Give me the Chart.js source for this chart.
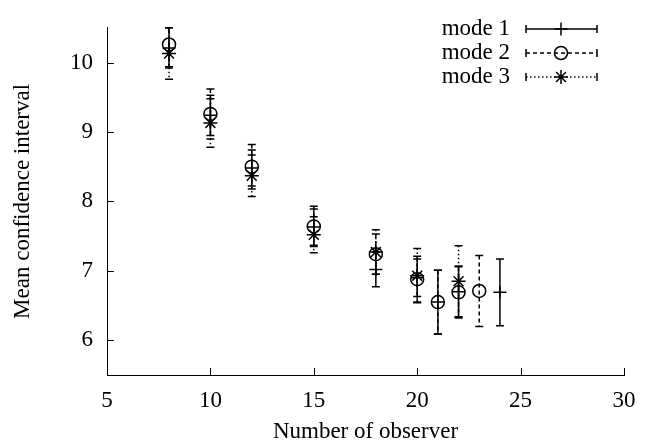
<!DOCTYPE html>
<html>
<head>
<meta charset="utf-8">
<script src="https://cdn.jsdelivr.net/npm/chart.js@4"></script>
<style>
  html, body { margin: 0; padding: 0; background: #fff; }
  #wrap { width: 659px; height: 448px; }
</style>
</head>
<body>
<div id="wrap"><canvas id="chart"></canvas></div>
<script>
// Data (mean, half-width of confidence interval)
const mode1X = [8, 10, 12, 15, 18, 20, 21, 22, 24];
const mode1Y = [10.21, 9.24, 8.48, 7.63, 7.02, 6.90, 6.55, 6.70, 6.69];
const mode1Err = [0.29, 0.29, 0.26, 0.26, 0.25, 0.27, 0.46, 0.37, 0.48];

const mode2X = [8, 10, 12, 15, 18, 20, 21, 22, 23];
const mode2Y = [10.26, 9.26, 8.50, 7.64, 7.24, 6.88, 6.55, 6.69, 6.71];
const mode2Err = [0.32, 0.36, 0.32, 0.29, 0.29, 0.33, 0.46, 0.37, 0.51];

const mode3X = [8, 10, 12, 15, 18, 20, 22];
const mode3Y = [10.13, 9.13, 8.37, 7.52, 7.27, 6.93, 6.85];
const mode3Err = [0.37, 0.35, 0.30, 0.26, 0.32, 0.39, 0.51];

const seriesNames = ["mode 1", "mode 2", "mode 3"];
const xTicks = [5, 10, 15, 20, 25, 30];
const yTicks = [6, 7, 8, 9, 10];

const fontFamily = '"Liberation Serif", "Times New Roman", serif';
const fontSize = 23;
const black = "#000";

function points(xs, ys, errs) {
  return xs.map((x, i) => ({ x, y: ys[i], err: errs[i] }));
}

// Error bars drawn through the scales
const errorBars = {
  id: "errorBars",
  beforeDatasetsDraw(chart) {
    const { ctx, chartArea, scales } = chart;
    ctx.save();
    ctx.beginPath();
    ctx.rect(chartArea.left, chartArea.top - 1, chartArea.right - chartArea.left, chartArea.bottom - chartArea.top + 2);
    ctx.clip();
    chart.data.datasets.forEach((ds) => {
      ctx.strokeStyle = black;
      ctx.lineWidth = 1.5;
      ds.data.forEach((p) => {
        const px = scales.x.getPixelForValue(p.x);
        const top = scales.y.getPixelForValue(p.y + p.err);
        const bot = scales.y.getPixelForValue(p.y - p.err);
        ctx.setLineDash(ds.barDash);
        ctx.beginPath();
        ctx.moveTo(px, top);
        ctx.lineTo(px, bot);
        ctx.stroke();
        ctx.setLineDash([]);
        ctx.beginPath();
        ctx.moveTo(px - 4, top);
        ctx.lineTo(px + 4, top);
        ctx.moveTo(px - 4, bot);
        ctx.lineTo(px + 4, bot);
        ctx.stroke();
      });
    });
    ctx.restore();
  },
};

// Inward tick marks and the key, gnuplot style
const ticksAndKey = {
  id: "ticksAndKey",
  afterDraw(chart) {
    const { ctx, chartArea, scales } = chart;
    ctx.save();
    ctx.strokeStyle = black;
    ctx.lineWidth = 1;
    ctx.setLineDash([]);
    ctx.beginPath();
    xTicks.forEach((v) => {
      const px = Math.round(scales.x.getPixelForValue(v)) + 0.5;
      ctx.moveTo(px, chartArea.bottom);
      ctx.lineTo(px, chartArea.bottom - 7);
    });
    yTicks.forEach((v) => {
      const py = Math.round(scales.y.getPixelForValue(v)) + 0.5;
      ctx.moveTo(chartArea.left, py);
      ctx.lineTo(chartArea.left + 7, py);
    });
    ctx.stroke();

    // key
    ctx.font = fontSize + "px " + fontFamily;
    ctx.fillStyle = black;
    ctx.textAlign = "right";
    ctx.textBaseline = "middle";
    chart.data.datasets.forEach((ds, i) => {
      const y = 29 + i * 24;
      ctx.fillText(seriesNames[i], 510, y);
      ctx.lineWidth = 1.5;
      ctx.setLineDash(ds.barDash);
      ctx.beginPath();
      ctx.moveTo(526, y);
      ctx.lineTo(597, y);
      ctx.stroke();
      ctx.setLineDash([]);
      ctx.beginPath();
      ctx.moveTo(526, y - 4);
      ctx.lineTo(526, y + 4);
      ctx.moveTo(597, y - 4);
      ctx.lineTo(597, y + 4);
      ctx.stroke();
      ctx.fillStyle = "rgba(0,0,0,0)";
      Chart.helpers.drawPoint(ctx, {
        pointStyle: ds.pointStyle,
        radius: ds.pointRadius,
        rotation: 0,
        borderWidth: 1.5,
      }, 561, y);
      ctx.fillStyle = black;
    });
    ctx.restore();
  },
};

new Chart(document.getElementById("chart"), {
  type: "scatter",
  data: {
    datasets: [
      {
        label: seriesNames[0],
        data: points(mode1X, mode1Y, mode1Err),
        pointStyle: "cross",
        pointRadius: 6.5,
        barDash: [],
      },
      {
        label: seriesNames[1],
        data: points(mode2X, mode2Y, mode2Err),
        pointStyle: "circle",
        pointRadius: 6.5,
        barDash: [4, 3],
      },
      {
        label: seriesNames[2],
        data: points(mode3X, mode3Y, mode3Err),
        pointStyle: "star",
        pointRadius: 7,
        barDash: [1.5, 2.5],
      },
    ].map((ds) => ({
      ...ds,
      showLine: false,
      borderColor: black,
      backgroundColor: "rgba(0,0,0,0)",
      pointBorderWidth: 1.5,
      pointHoverRadius: ds.pointRadius,
    })),
  },
  plugins: [errorBars, ticksAndKey],
  options: {
    responsive: true,
    maintainAspectRatio: false,
    devicePixelRatio: 1,
    animation: false,
    layout: { padding: { top: 9, right: 35, left: 0, bottom: 0 } },
    plugins: { legend: { display: false }, tooltip: { enabled: false } },
    scales: {
      x: {
        type: "linear",
        min: 5,
        max: 30,
        afterBuildTicks: (s) => { s.ticks = xTicks.map((v) => ({ value: v })); },
        afterFit: (s) => { s.height = 73; },
        grid: { display: false, drawTicks: false },
        border: { display: true, color: black, width: 1 },
        ticks: { color: black, padding: 12, font: { family: fontFamily, size: fontSize } },
        title: {
          display: true,
          text: "Number of observer",
          color: black,
          padding: { top: 0, bottom: 2 },
          font: { family: fontFamily, size: fontSize },
        },
      },
      y: {
        type: "linear",
        min: 5.5,
        max: 10.5,
        afterBuildTicks: (s) => { s.ticks = yTicks.map((v) => ({ value: v })); },
        afterFit: (s) => { s.width = 107; },
        grid: { display: false, drawTicks: false },
        border: { display: true, color: black, width: 1 },
        ticks: { color: black, padding: 14, font: { family: fontFamily, size: fontSize } },
        title: {
          display: true,
          text: "Mean confidence interval",
          color: black,
          padding: { top: 9, bottom: 0 },
          font: { family: fontFamily, size: fontSize },
        },
      },
    },
  },
});
</script>
</body>
</html>
